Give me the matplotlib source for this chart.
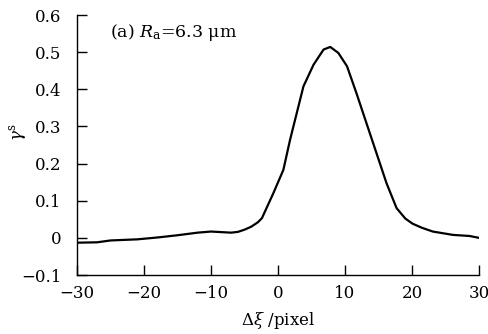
import matplotlib
matplotlib.use("Agg")
import matplotlib.pyplot as plt
from matplotlib.ticker import FixedLocator, FuncFormatter

plt.rcParams['font.family'] = ['DejaVu Serif']
plt.rcParams['mathtext.fontset'] = 'dejavuserif'

dxi = [-30, -27, -25, -21, -18, -15, -12, -10, -7, -6, -5, -4, -3, -2.4, -0.7, 0.8,
       1.8, 2.8, 3.8, 5.3, 6.8, 7.8, 9.0, 10.3, 11.7, 13.2, 14.7, 16.2, 17.7,
       19.0, 20.1, 21.5, 23.1, 26.1, 28.6, 30]
gamma = [-0.013, -0.012, -0.007, -0.004, 0.001, 0.007, 0.014, 0.017, 0.014, 0.016,
         0.022, 0.030, 0.042, 0.053, 0.120, 0.183, 0.264, 0.336, 0.408, 0.466,
         0.507, 0.514, 0.498, 0.462, 0.390, 0.309, 0.228, 0.147, 0.080,
         0.052, 0.038, 0.027, 0.017, 0.008, 0.005, 0.0]

xticks = [-30, -20, -10, 0, 10, 20, 30]
yticks = [-0.1, 0, 0.1, 0.2, 0.3, 0.4, 0.5, 0.6]

fig = plt.figure(figsize=(4.88, 3.34), dpi=100)
ax = fig.add_axes([77/488, 1-275/334, (479-77)/488, (275-15)/334])
ax.plot(dxi, gamma, color='black', lw=1.6)
ax.set_xlim(-30, 30)
ax.set_ylim(-0.1, 0.6)
ax.xaxis.set_major_locator(FixedLocator(xticks))
ax.yaxis.set_major_locator(FixedLocator(yticks))

def fmt(v, pos):
    if abs(v) < 1e-9:
        return '0'
    s = ('%g' % v)
    return s.replace('-', '\u2212')

ax.xaxis.set_major_formatter(FuncFormatter(fmt))
ax.yaxis.set_major_formatter(FuncFormatter(fmt))
for side in ['top', 'right']:
    ax.spines[side].set_visible(False)
for side in ['left', 'bottom']:
    ax.spines[side].set_linewidth(1.0)
ax.tick_params(direction='in', length=7, width=1.0, labelsize=12)
ax.tick_params(axis='y', pad=11)
ax.tick_params(axis='x', pad=7)
ax.set_xlabel('$\\Delta\\xi$ /pixel', fontsize=12, labelpad=6)
ax.set_ylabel('$\\gamma^{\\mathrm{s}}$', fontsize=12)
ax.yaxis.set_label_coords(-0.12, 0.55)
ax.text(-25.1, 0.553, '(a) $R_{\\mathrm{a}}$=6.3 \u03bcm', fontsize=12.5, va='center', ha='left')
fig.savefig('out.png', dpi=100)
